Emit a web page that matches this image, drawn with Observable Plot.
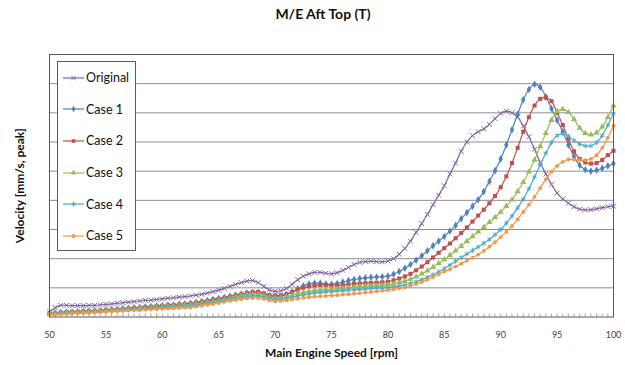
<!DOCTYPE html>
<html><head><meta charset="utf-8">
<script src="https://cdn.jsdelivr.net/npm/d3@7"></script>
<script src="https://cdn.jsdelivr.net/npm/@observablehq/plot@0.6"></script>
<style>
body{margin:0;background:#fff;font-family:Lato,"Open Sans",sans-serif}
#wrap{position:relative;width:625px;height:365px}
#title{position:absolute;left:0;top:5px;width:646px;text-align:center;font-weight:bold;font-size:14px;color:#111}
#legend{position:absolute;left:57px;top:61px;width:79px;height:190px;border:1px solid #595959;background:#fff;box-sizing:border-box;padding-top:0}
.item{height:31.6px;display:flex;align-items:center;font-size:12.5px;color:#111}
.item svg{margin-left:5px;margin-right:2px}
#chart svg g[aria-label="x-axis label"] text,#chart svg g[aria-label="y-axis label"] text{font-weight:bold;font-size:12px;fill:#111}
</style></head>
<body><div id="wrap"><div id="chart"></div><div id="title">M/E Aft Top (T)</div><div id="legend"></div></div>
<script>
const rpm = [50,50.5,51,51.5,52,52.5,53,53.5,54,54.5,55,55.5,56,56.5,57,57.5,58,58.5,59,59.5,
60,60.5,61,61.5,62,62.5,63,63.5,64,64.5,65,65.5,66,66.5,67,67.5,68,68.5,69,69.5,
70,70.5,71,71.5,72,72.5,73,73.5,74,74.5,75,75.5,76,76.5,77,77.5,78,78.5,79,79.5,
80,80.5,81,81.5,82,82.5,83,83.5,84,84.5,85,85.5,86,86.5,87,87.5,88,88.5,89,89.5,
90,90.5,91,91.5,92,92.5,93,93.5,94,94.5,95,95.5,96,96.5,97,97.5,98,98.5,99,99.5,100];

const original = [0.17,0.32,0.40,0.40,0.39,0.39,0.39,0.40,0.40,0.42,0.43,0.45,0.47,0.49,0.51,0.53,0.55,0.57,0.58,0.60,
0.62,0.64,0.66,0.68,0.70,0.72,0.75,0.78,0.82,0.87,0.92,0.98,1.05,1.12,1.18,1.23,1.25,1.18,1.05,0.93,
0.88,0.90,0.98,1.12,1.28,1.40,1.48,1.53,1.53,1.50,1.48,1.52,1.60,1.70,1.80,1.87,1.90,1.91,1.90,1.89,
1.92,2.00,2.15,2.35,2.60,2.90,3.20,3.52,3.85,4.18,4.50,4.90,5.28,5.68,6.00,6.22,6.35,6.45,6.60,6.80,
6.98,7.06,7.00,6.85,6.55,6.18,5.75,5.30,4.90,4.55,4.25,4.05,3.90,3.78,3.70,3.67,3.68,3.71,3.75,3.78,3.80];

const case1 = [0.12,0.14,0.16,0.17,0.18,0.19,0.20,0.21,0.22,0.23,0.25,0.26,0.27,0.29,0.30,0.32,0.33,0.35,0.36,0.38,
0.39,0.41,0.42,0.44,0.45,0.47,0.50,0.53,0.56,0.60,0.63,0.67,0.71,0.75,0.79,0.82,0.84,0.84,0.79,0.73,
0.71,0.72,0.77,0.86,0.97,1.07,1.13,1.16,1.16,1.13,1.12,1.15,1.20,1.25,1.29,1.32,1.34,1.36,1.37,1.38,
1.40,1.47,1.56,1.67,1.80,1.95,2.10,2.27,2.44,2.60,2.76,2.95,3.14,3.37,3.58,3.80,4.02,4.30,4.65,5.02,
5.42,5.90,6.42,6.95,7.45,7.80,7.98,7.88,7.55,7.15,6.75,6.35,5.90,5.50,5.20,5.05,5.00,5.03,5.10,5.18,5.26];

const case2 = [0.12,0.13,0.15,0.16,0.17,0.18,0.19,0.20,0.21,0.22,0.24,0.25,0.26,0.28,0.29,0.31,0.32,0.34,0.35,0.37,
0.38,0.40,0.41,0.43,0.44,0.46,0.49,0.52,0.55,0.59,0.62,0.66,0.70,0.74,0.78,0.82,0.85,0.86,0.81,0.75,
0.73,0.74,0.78,0.85,0.93,1.00,1.05,1.08,1.10,1.10,1.09,1.09,1.10,1.12,1.14,1.15,1.16,1.17,1.18,1.19,
1.21,1.26,1.32,1.39,1.48,1.60,1.73,1.88,2.04,2.20,2.36,2.52,2.70,2.88,3.07,3.27,3.48,3.68,3.90,4.15,
4.45,4.82,5.28,5.80,6.35,6.85,7.25,7.48,7.52,7.40,7.00,6.58,6.10,5.68,5.42,5.30,5.26,5.28,5.38,5.55,5.70];

const case3 = [0.11,0.12,0.14,0.15,0.16,0.17,0.18,0.19,0.20,0.21,0.22,0.23,0.24,0.26,0.27,0.28,0.30,0.31,0.33,0.34,
0.35,0.37,0.38,0.40,0.41,0.42,0.45,0.48,0.51,0.54,0.57,0.61,0.65,0.69,0.73,0.76,0.78,0.78,0.74,0.68,
0.65,0.66,0.69,0.74,0.80,0.85,0.88,0.91,0.93,0.94,0.95,0.97,0.99,1.01,1.03,1.05,1.06,1.08,1.09,1.10,
1.11,1.14,1.18,1.23,1.30,1.38,1.48,1.59,1.71,1.84,1.97,2.12,2.27,2.43,2.60,2.76,2.92,3.08,3.25,3.42,
3.60,3.80,4.02,4.30,4.62,4.98,5.38,5.85,6.30,6.75,7.05,7.12,7.02,6.78,6.48,6.30,6.25,6.32,6.52,6.85,7.24];

const case4 = [0.10,0.11,0.12,0.13,0.14,0.15,0.16,0.17,0.18,0.19,0.20,0.21,0.22,0.24,0.25,0.26,0.27,0.29,0.30,0.31,
0.32,0.34,0.35,0.36,0.37,0.38,0.41,0.44,0.47,0.50,0.53,0.57,0.60,0.64,0.67,0.70,0.71,0.71,0.68,0.63,
0.60,0.61,0.63,0.67,0.72,0.76,0.79,0.82,0.84,0.86,0.87,0.89,0.90,0.92,0.93,0.95,0.96,0.98,0.99,1.00,
1.01,1.03,1.06,1.10,1.15,1.21,1.28,1.36,1.45,1.55,1.66,1.78,1.91,2.04,2.16,2.28,2.40,2.53,2.66,2.82,
3.00,3.22,3.46,3.74,4.04,4.40,4.80,5.22,5.62,5.98,6.22,6.28,6.20,6.05,5.93,5.87,5.87,5.98,6.22,6.58,6.98];

const case5 = [0.08,0.09,0.10,0.11,0.12,0.13,0.14,0.15,0.16,0.17,0.18,0.19,0.20,0.21,0.22,0.23,0.24,0.25,0.26,0.27,
0.28,0.29,0.30,0.31,0.32,0.33,0.36,0.39,0.42,0.45,0.48,0.52,0.55,0.58,0.61,0.64,0.65,0.65,0.62,0.57,
0.54,0.55,0.57,0.60,0.63,0.66,0.68,0.70,0.71,0.72,0.74,0.75,0.77,0.78,0.80,0.82,0.84,0.86,0.88,0.90,
0.92,0.95,0.98,1.02,1.07,1.13,1.20,1.28,1.37,1.47,1.56,1.64,1.73,1.83,1.93,2.03,2.14,2.27,2.41,2.57,
2.74,2.92,3.12,3.35,3.60,3.85,4.12,4.42,4.72,4.98,5.18,5.32,5.40,5.40,5.38,5.38,5.42,5.55,5.80,6.15,6.56];

const seriesNames = ["Original","Case 1","Case 2","Case 3","Case 4","Case 5"];
const seriesValues = [original, case1, case2, case3, case4, case5];
const seriesColors = ["#8064A2","#4F81BD","#C0504D","#9BBB59","#4BACC6","#F79646"];
const seriesSymbols = ["times","diamond","square","triangle","asterisk","circle"];
const xTicks = [50,55,60,65,70,75,80,85,90,95,100];
const yGrid = [1,2,3,4,5,6,7,8];

const series = seriesNames.map((name,i)=>({name, color:seriesColors[i], symbol:seriesSymbols[i],
  rows: rpm.map((r,j)=>({rpm:r, v:seriesValues[i][j]}))}));

const strokeSym = s => s==="times"||s==="asterisk";
const marks = [
  Plot.gridY(yGrid, {stroke:"#8f8f8f", strokeOpacity:1, strokeWidth:1}),
  Plot.ruleX(rpm, {x:d=>d, y1:0, y2:0.1, stroke:"#8f8f8f", strokeWidth:0.8})
];
for (const s of series) {
  marks.push(Plot.line(s.rows, {x:"rpm", y:"v", stroke:s.color, strokeWidth:1.2, curve:"catmull-rom"}));
  marks.push(Plot.dot(s.rows, strokeSym(s.symbol)
    ? {x:"rpm", y:"v", symbol:s.symbol, r:2.3, stroke:s.color, strokeWidth:1, fill:"none"}
    : {x:"rpm", y:"v", symbol:s.symbol, r:s.symbol==="circle"?1.9:2.3, fill:s.color, stroke:"none"}));
}
marks.push(Plot.frame({stroke:"#595959", strokeWidth:1}));
marks.push(Plot.axisX({ticks:xTicks, tickSize:0, tickPadding:15, fontSize:9, color:"#404040",
  label:"Main Engine Speed [rpm]", labelAnchor:"center", labelOffset:40, labelArrow:"none"}));
marks.push(Plot.axisY({ticks:[], label:"Velocity [mm/s, peak]", labelAnchor:"center", labelOffset:34, labelArrow:"none"}));

const chart = Plot.plot({
  width:625, height:365,
  marginTop:54, marginLeft:49, marginRight:12, marginBottom:48.5,
  style:{fontFamily:"Lato, 'Open Sans', sans-serif", background:"#fff"},
  x:{domain:[50,100]},
  y:{domain:[0,9]},
  marks
});
document.getElementById("chart").appendChild(chart);

// legend
const legend = document.getElementById("legend");
const symMap = {times:d3.symbolTimes, diamond:d3.symbolDiamond, square:d3.symbolSquare,
  triangle:d3.symbolTriangle, asterisk:d3.symbolAsterisk, circle:d3.symbolCircle};
for (const s of series) {
  const item = document.createElement("div");
  item.className = "item";
  const svg = d3.create("svg").attr("width",21).attr("height",10);
  svg.append("line").attr("x1",0).attr("x2",21).attr("y1",5).attr("y2",5).attr("stroke",s.color).attr("stroke-width",1.2);
  const p = svg.append("path").attr("transform","translate(10.5,5)")
    .attr("d", d3.symbol(symMap[s.symbol], strokeSym(s.symbol)?14:13)());
  if (strokeSym(s.symbol)) p.attr("fill","none").attr("stroke",s.color); else p.attr("fill",s.color);
  item.appendChild(svg.node());
  const t = document.createElement("span"); t.textContent = s.name;
  item.appendChild(t);
  legend.appendChild(item);
}
</script></body></html>
